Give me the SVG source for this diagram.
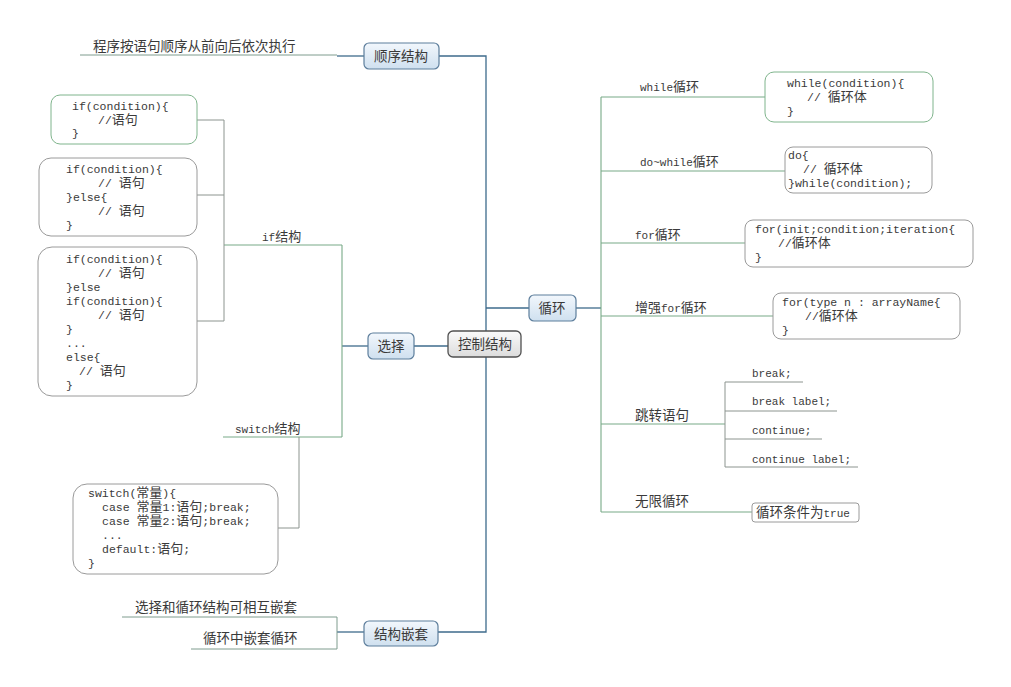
<svg xmlns="http://www.w3.org/2000/svg" width="1011" height="687" viewBox="0 0 1011 687">
<defs>
<linearGradient id="gb" x1="0" y1="0" x2="0" y2="1"><stop offset="0" stop-color="#f2f7fc"/><stop offset="1" stop-color="#cfe0ef"/></linearGradient>
<linearGradient id="gg" x1="0" y1="0" x2="0" y2="1"><stop offset="0" stop-color="#fafafa"/><stop offset="1" stop-color="#dcdcdc"/></linearGradient>
</defs>
<style>
.bl{fill:none;stroke:#3e6b8c;stroke-width:1.3}
.gl{fill:none;stroke:#78aa88;stroke-width:1.1}
.ul{fill:none;stroke:#7f9c8e;stroke-width:1}
.yl{fill:none;stroke:#8c948f;stroke-width:1}
.node{fill:url(#gb);stroke:#5d7e9c;stroke-width:1.2}
.root{fill:url(#gg);stroke:#505050;stroke-width:1.3}
.bxg{fill:#fff;stroke:#7fb48c;stroke-width:1}
.bxy{fill:#fff;stroke:#9a9a9a;stroke-width:1}
text{fill:#3a3a3a}
.m{font-family:"Liberation Mono","Noto Sans CJK SC",monospace;font-size:11.5px}
.l{font-family:"Liberation Mono","Noto Sans CJK SC",monospace;font-size:11px}
.k{font-family:"Noto Sans CJK SC",sans-serif;font-size:13px}
.n{font-family:"Noto Sans CJK SC",sans-serif;font-size:13.5px;text-anchor:middle}
.c{font-family:"Noto Sans CJK SC",sans-serif;font-size:13.5px}
</style>
<g id="connectors">
<path class="bl" d="M439 56H486V632H438"/>
<path class="bl" d="M486 308H529"/>
<path class="bl" d="M414 346H448"/>
<path class="bl" d="M364 56H337"/>
<path class="ul" d="M337 55H80"/>
<path class="bl" d="M364 632H337"/>
<path class="ul" d="M337 617V649M337 617H122M337 649H191"/>
<path class="bl" d="M368 346H342"/>
<path class="gl" d="M342 245V437M342 245H224M342 437H223"/>
<path class="yl" d="M224 120V321M197 120H224M197 195H224M197 321H224"/>
<path class="yl" d="M299 437V528H278"/>
<path class="bl" d="M576 308H601"/>
<path class="gl" d="M601 97V512M601 97H765M601 171H785M601 243H745M601 316H773M601 424H725M601 512H752"/>
<path class="yl" d="M725 382V467M725 382H803M725 411H837M725 439H822M725 467H858"/>
</g>
<g id="root"><rect class="root" x="448" y="331" width="73" height="26" rx="5"/><text class="n" x="485" y="349">控制结构</text></g>
<g id="seq"><rect class="node" x="364" y="43" width="75" height="26" rx="5"/><text class="n" x="401" y="61">顺序结构</text></g>
<g id="seq-desc"><text class="c" x="93" y="51">程序按语句顺序从前向后依次执行</text></g>
<g id="choice"><rect class="node" x="368" y="333" width="46" height="26" rx="5"/><text class="n" x="391" y="351">选择</text></g>
<g id="loop"><rect class="node" x="529" y="295" width="47" height="26" rx="5"/><text class="n" x="552" y="313">循环</text></g>
<g id="nest"><rect class="node" x="364" y="621" width="74" height="25" rx="5"/><text class="n" x="401" y="639">结构嵌套</text></g>
<g id="nest-1"><text class="c" x="135" y="612">选择和循环结构可相互嵌套</text></g>
<g id="nest-2"><text class="c" x="203" y="643">循环中嵌套循环</text></g>
<g id="if-label"><text class="l" x="262" y="241">if<tspan class="k">结构</tspan></text></g>
<g id="switch-label"><text class="l" x="235" y="433">switch<tspan class="k">结构</tspan></text></g>
<g id="if1"><rect class="bxg" x="51" y="95" width="146" height="49" rx="9"/>
<text class="m" x="72" y="110">if(condition){</text>
<text class="m" x="98" y="124">//<tspan class="k">语句</tspan></text>
<text class="m" x="72" y="137">}</text></g>
<g id="if2"><rect class="bxy" x="39" y="158" width="158" height="78" rx="12"/>
<text class="m" x="66" y="173">if(condition){</text>
<text class="m" x="98" y="187">// <tspan class="k">语句</tspan></text>
<text class="m" x="66" y="201">}else{</text>
<text class="m" x="98" y="215">// <tspan class="k">语句</tspan></text>
<text class="m" x="66" y="229">}</text></g>
<g id="if3"><rect class="bxy" x="38" y="247" width="159" height="149" rx="14"/>
<text class="m" x="66" y="263">if(condition){</text>
<text class="m" x="98" y="277">// <tspan class="k">语句</tspan></text>
<text class="m" x="66" y="291">}else</text>
<text class="m" x="66" y="305">if(condition){</text>
<text class="m" x="98" y="319">// <tspan class="k">语句</tspan></text>
<text class="m" x="66" y="333">}</text>
<text class="m" x="66" y="347">...</text>
<text class="m" x="66" y="361">else{</text>
<text class="m" x="79" y="375">// <tspan class="k">语句</tspan></text>
<text class="m" x="66" y="389">}</text></g>
<g id="switch"><rect class="bxy" x="73" y="484" width="205" height="90" rx="14"/>
<text class="m" x="88" y="497">switch(<tspan class="k">常量</tspan>){</text>
<text class="m" x="102" y="511">case <tspan class="k">常量</tspan>1:<tspan class="k">语句</tspan>;break;</text>
<text class="m" x="102" y="525">case <tspan class="k">常量</tspan>2:<tspan class="k">语句</tspan>;break;</text>
<text class="m" x="102" y="539">...</text>
<text class="m" x="102" y="553">default:<tspan class="k">语句</tspan>;</text>
<text class="m" x="88" y="567">}</text></g>
<g id="while-label"><text class="l" x="640" y="91">while<tspan class="k">循环</tspan></text></g>
<g id="while"><rect class="bxg" x="765" y="72" width="168" height="50" rx="9"/>
<text class="m" x="787" y="87">while(condition){</text>
<text class="m" x="807" y="101">// <tspan class="k">循环体</tspan></text>
<text class="m" x="787" y="115">}</text></g>
<g id="dowhile-label"><text class="l" x="640" y="166">do~while<tspan class="k">循环</tspan></text></g>
<g id="dowhile"><rect class="bxy" x="785" y="147" width="147" height="46" rx="8"/>
<text class="m" x="788" y="159">do{</text>
<text class="m" x="803" y="173">// <tspan class="k">循环体</tspan></text>
<text class="m" x="788" y="187">}while(condition);</text></g>
<g id="for-label"><text class="l" x="635" y="239">for<tspan class="k">循环</tspan></text></g>
<g id="for"><rect class="bxy" x="745" y="220" width="228" height="47" rx="8"/>
<text class="m" x="755" y="233">for(init;condition;iteration{</text>
<text class="m" x="778" y="247">//<tspan class="k">循环体</tspan></text>
<text class="m" x="755" y="261">}</text></g>
<g id="foreach-label"><text class="l" x="635" y="312"><tspan class="k">增强</tspan>for<tspan class="k">循环</tspan></text></g>
<g id="foreach"><rect class="bxy" x="773" y="293" width="187" height="46" rx="8"/>
<text class="m" x="782" y="306">for(type n : arrayName{</text>
<text class="m" x="805" y="320">//<tspan class="k">循环体</tspan></text>
<text class="m" x="782" y="334">}</text></g>
<g id="jump-label"><text class="c" x="635" y="420">跳转语句</text></g>
<g id="jump-1"><text class="l" x="752" y="377">break;</text></g>
<g id="jump-2"><text class="l" x="752" y="405">break label;</text></g>
<g id="jump-3"><text class="l" x="752" y="434">continue;</text></g>
<g id="jump-4"><text class="l" x="752" y="463">continue label;</text></g>
<g id="inf-label"><text class="c" x="635" y="506">无限循环</text></g>
<g id="inf"><rect class="bxy" x="752" y="503" width="107" height="19" rx="3"/>
<text class="c" x="756" y="517">循环条件为<tspan class="l" font-size="12px">true</tspan></text></g>
</svg>
